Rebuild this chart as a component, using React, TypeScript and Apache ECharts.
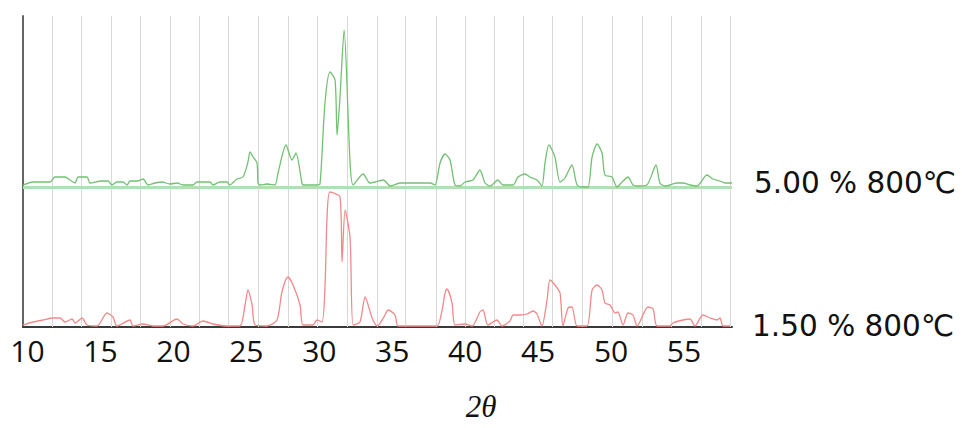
import React, { useEffect, useRef } from "react";
import * as echarts from "echarts";

// X-axis tick labels (2θ)
const tickLabels = [10, 15, 20, 25, 30, 35, 40, 45, 50, 55];
// Vertical grid-line positions (2θ)
const gridLines2Theta = [11.7, 13.7, 15.75, 17.75, 19.8, 21.8, 23.75, 25.8, 27.85, 29.85, 31.9, 33.95, 35.9, 38.0, 40.0, 42.0, 44.0, 46.0, 48.05, 50.1, 52.15, 54.1, 56.2, 58.15];
const seriesNames = ["5.00 % 800℃", "1.50 % 800℃"];
const greenOffset = 140;

// 5.00 % 800 ℃ pattern
const green2Theta = [9.69, 10.38, 11.06, 11.54, 11.88, 12.57, 12.91, 13.26, 13.46, 14.08, 14.28, 15.11, 15.52, 15.79, 16.13, 16.55, 16.82, 17.03, 17.57, 17.92, 18.26, 18.74, 19.22, 19.77, 20.25, 20.66, 21.34, 21.62, 22.51, 22.71, 23.19, 23.67, 23.87, 24.36, 24.77, 25.11, 25.25, 25.46, 25.73, 25.8, 25.94, 26.41, 26.96, 27.17, 27.72, 28.13, 28.4, 28.81, 28.88, 29.84, 30.05, 30.39, 30.73, 31.08, 31.22, 31.42, 31.7, 32.11, 32.32, 33.0, 33.48, 34.39, 34.87, 35.53, 37.59, 37.93, 38.28, 38.62, 38.96, 39.3, 39.64, 39.99, 40.53, 41.01, 41.36, 41.7, 42.25, 42.59, 43.28, 43.62, 44.1, 44.44, 44.92, 45.26, 45.47, 45.74, 46.15, 46.5, 46.84, 47.32, 47.67, 48.08, 48.42, 48.7, 49.04, 49.38, 49.58, 50.06, 50.41, 50.75, 51.16, 51.5, 51.85, 52.46, 53.08, 53.35, 53.7, 54.52, 54.93, 55.41, 55.89, 56.57, 56.99, 57.47, 57.81, 58.29];
const greenIntensity = [2, 5, 5, 5, 10, 10, 7, 4, 10, 10, 4, 6, 6, 2, 5, 5, 2, 6, 6, 8, 2, 4, 5, 3, 4, 2, 2, 5, 5, 2, 5, 5, 2, 8, 10, 25, 35, 30, 24, 4, 2, 3, 2, 14, 42, 27, 34, 4, 2, 2, 3, 84, 115, 107, 52, 90, 157, 24, 2, 13, 4, 7, 1, 4, 4, 2, 24, 33, 27, 2, 1, 5, 7, 17, 4, 1, 7, 2, 2, 10, 13, 10, 7, 1, 24, 42, 30, 5, 9, 22, 2, 0, 0, 30, 43, 34, 12, 10, 0, 5, 10, 2, 1, 2, 22, 4, 1, 4, 4, 2, 1, 12, 8, 6, 4, 4];

// 1.50 % 800 ℃ pattern
const red2Theta = [9.69, 10.38, 11.06, 11.75, 12.23, 12.57, 13.05, 13.26, 13.74, 14.08, 14.76, 15.45, 15.86, 16.13, 17.03, 17.23, 17.92, 18.6, 19.29, 20.25, 20.66, 21.34, 22.03, 22.71, 23.67, 24.56, 24.91, 25.11, 25.39, 25.6, 26.41, 27.1, 27.44, 27.85, 28.2, 28.68, 28.88, 29.57, 29.84, 30.19, 30.39, 30.53, 30.73, 31.42, 31.56, 31.77, 32.11, 32.32, 32.79, 33.14, 33.62, 33.98, 34.39, 34.73, 35.19, 35.39, 36.01, 37.11, 38.07, 38.42, 38.62, 38.75, 39.1, 39.3, 39.99, 40.47, 41.01, 41.22, 41.56, 42.18, 42.52, 43.07, 43.28, 43.76, 44.24, 44.65, 44.92, 45.26, 45.61, 45.81, 46.15, 46.5, 46.7, 47.05, 47.32, 47.67, 48.35, 48.7, 49.04, 49.38, 49.58, 49.93, 50.27, 50.47, 50.82, 51.16, 51.5, 51.78, 52.53, 52.88, 53.15, 54.04, 54.25, 54.93, 55.41, 55.75, 56.3, 56.78, 57.26, 57.47, 57.67, 58.16];
const redIntensity = [2, 5, 7, 9, 9, 5, 8, 4, 9, 2, 1, 14, 10, 1, 7, 1, 3, 1, 1, 8, 3, 1, 6, 3, 1, 1, 22, 37, 22, 2, 1, 7, 35, 50, 42, 22, 2, 2, 7, 5, 40, 109, 135, 130, 65, 117, 89, 2, 5, 30, 9, 1, 9, 17, 12, 1, 1, 1, 1, 17, 34, 38, 24, 2, 3, 1, 15, 17, 2, 7, 1, 6, 12, 12, 13, 16, 13, 1, 27, 47, 42, 34, 1, 19, 20, 1, 1, 37, 42, 37, 24, 22, 14, 15, 2, 14, 12, 1, 20, 18, 1, 1, 4, 7, 8, 1, 12, 9, 7, 9, 1, 1];

const tickFont = "'Open Sans', 'Noto Sans', sans-serif";
const endFont = "'DejaVu Sans', 'Noto Sans CJK SC', sans-serif";

export default function App() {
  const ref = useRef<HTMLDivElement>(null);
  useEffect(() => {
    if (!ref.current) return;
    const chart = echarts.init(ref.current, undefined, { renderer: "svg" });
    const greenData = green2Theta.map((x, i) => [x, greenIntensity[i] + greenOffset]);
    const redData = red2Theta.map((x, i) => [x, redIntensity[i]]);
    const endLabel = {
      show: true,
      formatter: "{a}",
      distance: 22,
      fontSize: 29.5,
      color: "#111",
      fontFamily: endFont,
    };
    chart.setOption({
      animation: false,
      backgroundColor: "#ffffff",
      grid: { left: 23, right: 230, top: 16, bottom: 101, containLabel: false, outerBoundsMode: "none" },
      xAxis: {
        type: "value",
        min: 9.69,
        max: 58.29,
        axisLine: { show: true, lineStyle: { color: "#3a3a3a", width: 2 } },
        axisTick: { show: false },
        splitLine: { show: false },
        axisLabel: {
          customValues: tickLabels,
          fontSize: 30,
          color: "#111",
          fontFamily: tickFont,
          margin: 8,
          hideOverlap: false,
        },
      },
      yAxis: {
        type: "value",
        min: 0,
        max: 311,
        axisLine: { show: true, onZero: false, lineStyle: { color: "#666", width: 2 } },
        axisTick: { show: false },
        axisLabel: { show: false },
        splitLine: { show: false },
      },
      graphic: [
        {
          type: "text",
          x: 481,
          y: 406,
          style: {
            text: "2θ",
            font: "italic 31px 'Liberation Serif', 'DejaVu Serif', serif",
            fill: "#111",
            textAlign: "center",
            textVerticalAlign: "middle",
          },
        },
      ],
      series: [
        {
          name: seriesNames[1],
          type: "line",
          data: redData,
          showSymbol: false,
          symbol: "none",
          smooth: 0.25,
          lineStyle: { color: "#f08a8a", width: 1.3 },
          z: 3,
          endLabel,
          markLine: {
            silent: true,
            z: 1,
            symbol: ["none", "none"],
            label: { show: false },
            lineStyle: { color: "#d8d8d8", width: 1, type: "solid" },
            data: gridLines2Theta.map((v) => ({ xAxis: v })),
          },
        },
        {
          name: seriesNames[0],
          type: "line",
          data: greenData,
          showSymbol: false,
          symbol: "none",
          smooth: 0.25,
          lineStyle: { color: "#72c172", width: 1.3 },
          z: 3,
          endLabel,
          markLine: {
            silent: true,
            z: 2,
            symbol: ["none", "none"],
            label: { show: false },
            lineStyle: { color: "#b3e0b3", width: 3, type: "solid" },
            data: [{ yAxis: greenOffset }],
          },
        },
      ],
    });
    return () => chart.dispose();
  }, []);
  return (
    <div
      ref={ref}
      style={{ position: "fixed", left: 0, top: 0, width: 962, height: 428 }}
    />
  );
}
